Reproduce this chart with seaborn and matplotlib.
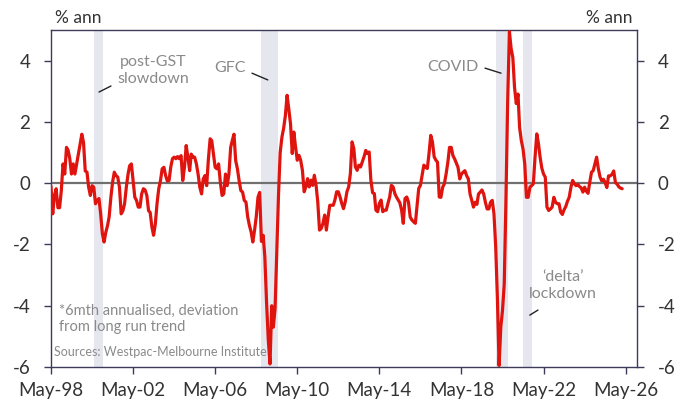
import pandas as pd
import matplotlib.pyplot as plt
import seaborn as sns

# monthly values, May-1998 onwards (% ann, deviation from trend)
valores = [
    -0.1, -1.0, -0.4, -0.18, -0.8, -0.8, -0.24, 0.63, 0.3, 1.17, 1.08, 0.8,
    0.3, 0.63, 0.3, 0.63, 0.95, 1.28, 1.6, 1.33, 0.4, 0.36, -0.13, -0.4,
    -0.08, -0.13, -0.67, -0.56, -0.5, -1.0, -1.65, -1.92, -1.6, -1.38, -1.1, -0.46,
    0.03, 0.36, 0.25, 0.2, -0.13, -1.0, -0.9, -0.67, -0.13, 0.3, 0.57, 0.63,
    0.09, -0.46, -0.56, -0.78, -0.78, -0.35, -0.18, -0.22, -0.4, -0.9, -0.95, -1.43,
    -1.7, -1.33, -0.67, -0.18, 0.09, 0.47, 0.52, 0.25, 0.07, 0.09, 0.52, 0.8,
    0.85, 0.8, 0.87, 0.8, 0.9, 0.09, 0.52, 1.23, 0.85, 0.41, 0.95, 0.85,
    0.85, 0.63, 0.3, -0.13, -0.35, 0.14, 0.25, -0.08, 0.8, 1.45, 1.39, 0.95,
    0.52, 0.47, 0.63, 0.03, -0.4, -0.35, 0.3, -0.08, 0.3, 1.17, 1.39, 1.6,
    0.74, 0.47, 0.09, -0.24, -0.29, -0.56, -0.62, -1.1, -1.38, -1.6, -1.92, -1.54,
    -1.1, -0.46, -0.3, -1.9, -1.7, -2.4, -3.9, -5.1, -5.9, -4.0, -4.7, -4.1,
    -2.3, -0.4, 1.0, 1.5, 1.8, 2.2, 2.87, 2.43, 1.94, 0.97, 1.67, 1.18,
    0.75, 0.91, 0.75, 0.42, -0.28, -0.12, 0.15, -0.12, 0.1, -0.07, 0.26, -0.07,
    -0.61, -1.53, -1.48, -1.31, -1.04, -1.53, -1.1, -0.72, -0.72, -0.72, -0.55, -0.28,
    -0.28, -0.45, -0.66, -0.83, -0.61, -0.28, -0.12, 0.31, 1.35, 1.13, 0.53, 0.42,
    0.59, 0.53, 0.69, 0.86, 1.07, 0.97, 1.02, 0.1, -0.31, -0.34, -0.88, -0.93,
    -0.66, -0.55, -0.93, -0.88, -0.88, -0.66, -0.45, -0.07, -0.12, -0.34, -0.45, -0.55,
    -0.64, -0.88, -1.31, -0.5, -0.45, -0.61, -1.1, -1.2, -1.26, -1.31, -0.77, -0.17,
    -0.07, 0.26, 0.59, 0.53, 0.48, 0.97, 1.56, 1.35, 0.86, 0.75, 0.69, -0.45,
    -0.46, -0.13, -0.02, 0.3, 0.68, 1.17, 1.17, 0.9, 0.79, 0.65, 0.52, 0.14,
    0.3, 0.36, 0.41, 0.25, 0.14, -0.35, -0.56, -0.78, -0.62, -0.69, -0.35, -0.29,
    -0.22, -0.35, -0.62, -0.84, -0.84, -0.62, -0.56, -1.0, -2.08, -3.82, -5.95, -4.69,
    -4.15, -3.28, -0.56, 2.69, 4.95, 4.4, 4.1, 3.13, 2.6, 2.91, 1.82, 1.39,
    1.12, 0.63, -0.46, -0.46, -0.13, -0.08, -0.02, 0.85, 1.61, 1.28, 0.85, 0.49,
    0.3, 0.2, -0.78, -0.89, -0.84, -0.78, -0.46, -0.62, -0.67, -0.67, -0.94, -1.02,
    -0.87, -0.76, -0.59, -0.46, -0.13, 0.09, -0.02, -0.08, -0.04, -0.11, -0.15, -0.29,
    -0.13, -0.26, -0.33, 0.03, 0.36, 0.41, 0.63, 0.85, 0.47, 0.2, 0.08, 0.13,
    0.02, -0.14, 0.24, 0.24, 0.29, 0.4, 0.02, -0.03, -0.12, -0.16, -0.18,
]
datas = pd.date_range('1998-05-01', periods=len(valores), freq='MS')

anos_ticks = [1998, 2002, 2006, 2010, 2014, 2018, 2022, 2026]
rotulos_x = ['May-98', 'May-02', 'May-06', 'May-10', 'May-14', 'May-18', 'May-22', 'May-26']
ticks_y = [-6, -4, -2, 0, 2, 4]

# episodes (shaded)
episodios = [
    ('2000-06-05', '2000-11-20'),
    ('2008-07-20', '2009-05-18'),
    ('2020-01-08', '2020-08-08'),
    ('2021-05-01', '2021-10-08'),
]

sns.set_style('ticks')
plt.rcParams['font.family'] = ['Lato', 'DejaVu Sans']

tabela = pd.DataFrame({'data': datas, 'valor': valores})

fig = plt.figure(figsize=(6.88, 4.05), dpi=100)
ax = fig.add_axes([0.0741, 0.0938, 0.8518, 0.832])

for ini, fim in episodios:
    ax.axvspan(pd.Timestamp(ini), pd.Timestamp(fim), color='#e6e6ee', lw=0, zorder=0)

ax.axhline(0, color='#707070', lw=1.6, zorder=1)
sns.lineplot(data=tabela, x='data', y='valor', color='#e0140f', lw=2.3, ax=ax, zorder=3)

ax.set_xlim(pd.Timestamp('1998-05-01'), pd.Timestamp('2026-11-20'))
ax.set_ylim(-6, 5)
ax.set_xticks([pd.Timestamp(f'{a}-05-01') for a in anos_ticks])
ax.set_xticklabels(rotulos_x)
ax.set_yticks(ticks_y)
ax.set_yticklabels([str(t) for t in ticks_y])
ax.set_xlabel('')
ax.set_ylabel('')

cor_eixo = '#3c3c5a'
for s in ax.spines.values():
    s.set_visible(True)
    s.set_color(cor_eixo)
    s.set_linewidth(1.0)
ax.tick_params(axis='both', direction='out', length=5, width=1, color=cor_eixo,
               labelsize=13.5, labelcolor='#333333', pad=6)
ax.tick_params(axis='y', right=True, labelright=True, pad=10)

fig.text(55 / 688, 1 - 18 / 405, '% ann', ha='left', va='center', fontsize=12.5,
         color='#333333')
fig.text(632 / 688, 1 - 18 / 405, '% ann', ha='right', va='center', fontsize=12.5,
         color='#333333')

cinza = '#8a8a8a'
ax.text(0.174, 0.88, 'post-GST\nslowdown', transform=ax.transAxes, ha='center', va='center',
        fontsize=11.5, color=cinza, linespacing=1.2)
ax.plot([0.0819, 0.1024], [0.816, 0.834], transform=ax.transAxes, color='#222222', lw=1)
ax.text(0.3055, 0.887, 'GFC', transform=ax.transAxes, ha='center', va='center',
        fontsize=11.5, color=cinza)
ax.plot([0.343, 0.370], [0.872, 0.852], transform=ax.transAxes, color='#222222', lw=1)
ax.text(0.686, 0.890, 'COVID', transform=ax.transAxes, ha='center', va='center',
        fontsize=11.5, color=cinza)
ax.plot([0.7406, 0.768], [0.887, 0.872], transform=ax.transAxes, color='#222222', lw=1)
ax.text(0.874, 0.242, '\u2018delta\u2019\nlockdown', transform=ax.transAxes, ha='center',
        va='center', fontsize=11.5, color=cinza, linespacing=1.2)
ax.plot([0.817, 0.831], [0.154, 0.169], transform=ax.transAxes, color='#222222', lw=1)

ax.text(0.0137, 0.142, '*6mth annualised, deviation\nfrom long run trend', transform=ax.transAxes,
        ha='left', va='center', fontsize=10.5, color=cinza, linespacing=1.15)
ax.text(0.005, 0.0445, 'Sources: Westpac-Melbourne Institute', transform=ax.transAxes,
        ha='left', va='center', fontsize=9, color=cinza)

fig.savefig('out.png', dpi=100)
